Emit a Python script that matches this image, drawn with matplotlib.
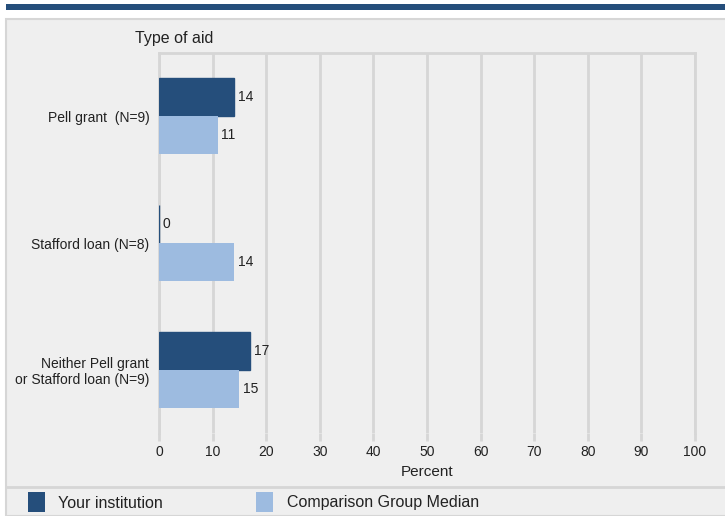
import matplotlib.pyplot as plt
from matplotlib.patches import Rectangle
import numpy as np

plt.rcParams['font.family'] = ['Liberation Sans', 'DejaVu Sans']

categories = ["Pell grant  (N=9)", "Stafford loan (N=8)", "Neither Pell grant\nor Stafford loan (N=9)"]
yours = [14, 0, 17]
median = [11, 14, 15]
series_names = ["Your institution", "Comparison Group Median"]
xticks = list(range(0, 101, 10))

DARK = "#254e7b"
LIGHT = "#9dbbe0"
GRID = "#d6d6d6"
PANEL = "#efefef"

W, H = 725, 516
fig = plt.figure(figsize=(W / 100, H / 100), dpi=100)
fig.patch.set_facecolor("white")

def fx(px):
    return px / W

def fy(py):
    return 1 - py / H

# top banner bar
fig.add_artist(Rectangle((fx(6), fy(10)), fx(725 - 6), 6 / H, transform=fig.transFigure,
                         facecolor=DARK, edgecolor="none", zorder=-5))
# panel background
fig.add_artist(Rectangle((fx(6), fy(516)), fx(725), (516 - 19) / H, transform=fig.transFigure,
                         facecolor=PANEL, edgecolor=GRID, linewidth=1.5, zorder=-5))
# separator line above legend
fig.add_artist(plt.Line2D([fx(6), 1], [fy(487), fy(487)], transform=fig.transFigure,
                          color=GRID, linewidth=2, zorder=-4))

ax = fig.add_axes([fx(159), fy(433), fx(695 - 159), (433 - 53) / H])
ax.set_facecolor(PANEL)

y = np.arange(len(categories))
h = 0.3
b1 = ax.barh(y - h / 2, yours, height=h, color=DARK, edgecolor=DARK, linewidth=1, zorder=3)
b2 = ax.barh(y + h / 2, median, height=h, color=LIGHT, zorder=3)

for bars in (b1, b2):
    for r in bars:
        v = r.get_width()
        ax.annotate(f"{v:g}", (v, r.get_y() + r.get_height() / 2), xytext=(2.5, 0),
                    textcoords="offset points", va="center", ha="left", fontsize=10, color="#222222")

ax.set_xlim(0, 100)
ax.set_ylim(len(categories) - 0.5, -0.5)
ax.set_xticks(xticks)
ax.set_yticks(y)
ax.set_yticklabels(categories, fontsize=10, color="#222222")
ax.tick_params(axis="y", length=0, pad=7)
ax.tick_params(axis="x", length=6, color=GRID, width=2, labelsize=10, labelcolor="#222222", pad=3)
ax.xaxis.grid(True, color=GRID, linewidth=2, zorder=0)
for s in ("top", "right", "left"):
    ax.spines[s].set_color(GRID)
    ax.spines[s].set_linewidth(2)
ax.spines["bottom"].set_visible(False)
ax.set_xlabel("Percent", fontsize=11, color="#222222", labelpad=4)

fig.text(fx(135), fy(38), "Type of aid", fontsize=11.5, va="center", ha="left", color="#222222")

# legend
fig.add_artist(Rectangle((fx(28), fy(512)), fx(17), 20 / H, transform=fig.transFigure,
                         facecolor=DARK, edgecolor="none"))
fig.text(fx(58), fy(503), series_names[0], fontsize=11.5, va="center", ha="left", color="#222222")
fig.add_artist(Rectangle((fx(256), fy(512)), fx(17), 20 / H, transform=fig.transFigure,
                         facecolor=LIGHT, edgecolor="none"))
fig.text(fx(287), fy(503), series_names[1], fontsize=11.5, va="center", ha="left", color="#222222")

fig.savefig("out.png", dpi=100)
